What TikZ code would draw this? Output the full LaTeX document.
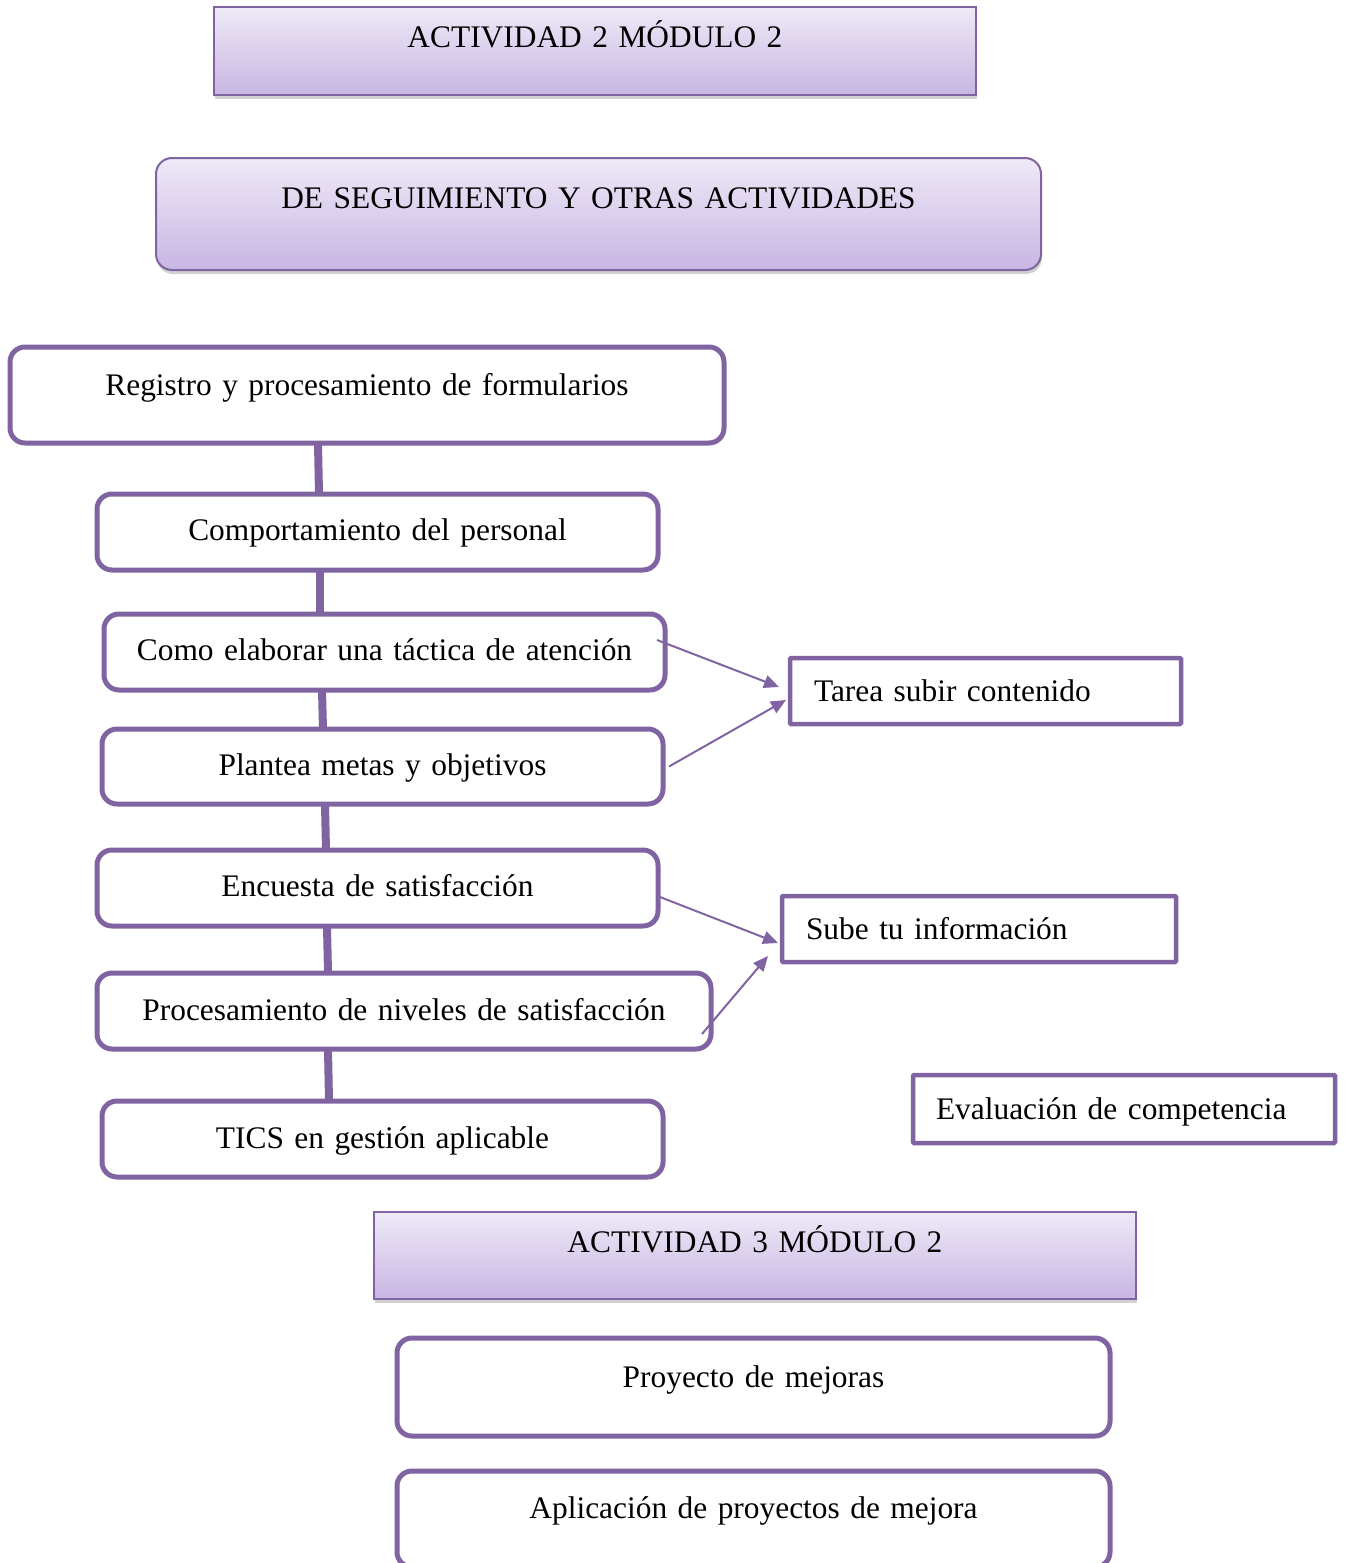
\documentclass[tikz,border=0pt]{standalone}
\usepackage{fontspec}
\setmainfont{Liberation Serif}
\usetikzlibrary{arrows.meta,shadows}

\definecolor{vio}{RGB}{128,100,162}
\definecolor{hdrTop}{RGB}{239,233,247}
\definecolor{hdrBot}{RGB}{199,182,227}

\tikzset{
  base/.style={inner sep=0pt, outer sep=0pt, anchor=north west, align=center,
    font=\fontsize{31.4}{38}\selectfont},
  header/.style={base, draw=vio, line width=2pt, top color=hdrTop, bottom color=hdrBot,
    drop shadow={shadow xshift=1pt, shadow yshift=-4pt, opacity=0.3, fill=black!60}},
  topic/.style={base, draw=vio, line width=5pt, rounded corners=15pt, fill=white},
  task/.style={base, draw=vio, line width=4.5pt, rounded corners=1pt, fill=white,
    align=left, inner xsep=24pt},
  link/.style={draw=vio, line width=8pt},
  arr/.style={draw=vio, line width=2pt, -{Triangle[length=15pt,width=13pt]}}
}

\begin{document}
\begin{tikzpicture}[x=1pt,y=-1pt]
\path[use as bounding box] (0,0) rectangle (1345,1563);
\clip (0,0) rectangle (1345,1563);

% headers
\node[header, text width=762pt, text height=41pt, text depth=47pt] (hdrA) at (214,7)
  {ACTIVIDAD 2 MÓDULO 2};
\node[header, rounded corners=16pt, text width=885pt, text height=50pt, text depth=62pt] (hdrB) at (156,158)
  {DE SEGUIMIENTO Y OTRAS ACTIVIDADES};

% chain of topics
\node[topic, text width=714pt, text height=48pt, text depth=48pt] (reg) at (10,347)
  {Registro y procesamiento de formularios};
\node[topic, text width=561pt, text height=46pt, text depth=30pt] (comp) at (97,494)
  {Comportamiento del personal};
\node[topic, text width=561pt, text height=46pt, text depth=30pt] (como) at (104,614)
  {Como elaborar una táctica de atención};
\node[topic, text width=561pt, text height=46pt, text depth=29pt] (plan) at (102,729)
  {Plantea metas y objetivos};
\node[topic, text width=561pt, text height=46pt, text depth=30pt] (enc) at (97,850)
  {Encuesta de satisfacción};
\node[topic, text width=614pt, text height=47pt, text depth=29pt] (proc) at (97,973)
  {Procesamiento de niveles de satisfacción};
\node[topic, text width=561pt, text height=47pt, text depth=29pt] (tics) at (102,1101)
  {TICS en gestión aplicable};

% vertical links between topics
\draw[link] ([xshift=308pt]reg.south west) -- ([xshift=222pt]comp.north west);
\draw[link] ([xshift=223pt]comp.south west) -- ([xshift=216pt]como.north west);
\draw[link] ([xshift=218pt]como.south west) -- ([xshift=221pt]plan.north west);
\draw[link] ([xshift=223pt]plan.south west) -- ([xshift=229pt]enc.north west);
\draw[link] ([xshift=230pt]enc.south west) -- ([xshift=231pt]proc.north west);
\draw[link] ([xshift=231pt]proc.south west) -- ([xshift=227pt]tics.north west);

% tasks
\node[task, text width=343pt, text height=43pt, text depth=23pt] (tarea) at (790,658)
  {Tarea subir contenido};
\node[task, text width=346pt, text height=43pt, text depth=23pt] (sube) at (782,896)
  {Sube tu información};
\node[task, inner xsep=23pt, text width=376pt, text height=44pt, text depth=24pt] (eval) at (913,1075)
  {Evaluación de competencia};

% arrows to tasks
\draw[arr] ([xshift=-8pt,yshift=12pt]como.east) -- ([xshift=-11pt,yshift=4pt]tarea.west);
\draw[arr] ([xshift=6pt]plan.east) -- ([xshift=-4pt,yshift=-9pt]tarea.west);
\draw[arr] ([xshift=2pt,yshift=-9pt]enc.east) -- ([xshift=-4pt,yshift=-14pt]sube.west);
\draw[arr] ([xshift=-9pt,yshift=-23pt]proc.east) -- ([xshift=-14pt,yshift=-27pt]sube.west);

% activity 3
\node[header, text width=762pt, text height=40pt, text depth=47pt] (hdrC) at (374,1212)
  {ACTIVIDAD 3 MÓDULO 2};
\node[topic, text width=713pt, text height=49pt, text depth=49pt] (proy) at (397,1338)
  {Proyecto de mejoras};
\node[topic, text width=713pt, text height=47pt, text depth=49pt] (apl) at (397,1471)
  {Aplicación de proyectos de mejora};
\end{tikzpicture}
\end{document}
